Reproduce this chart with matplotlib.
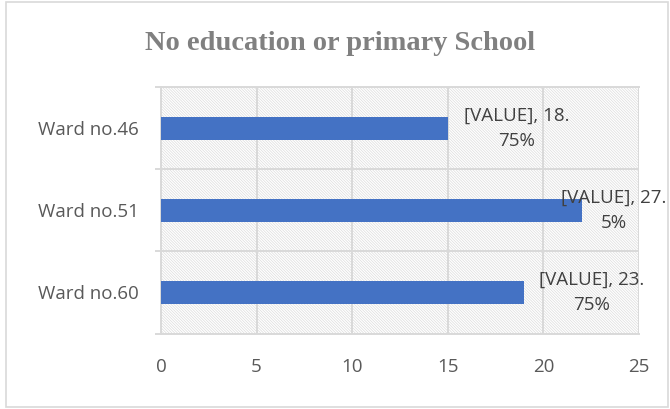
import matplotlib
matplotlib.use("Agg")
import matplotlib.pyplot as plt
from matplotlib.patches import Rectangle

categories = ["Ward no.60", "Ward no.51", "Ward no.46"]
values = [19, 22, 15]
labels = ["[VALUE], 23.\n75%", "[VALUE], 27.\n5%", "[VALUE], 18.\n75%"]
label_offsets = [67, 32, 69]  # px from bar end to label centre
xticks = [0, 5, 10, 15, 20, 25]

plt.rcParams['font.family'] = ['Open Sans', 'DejaVu Sans']
plt.rcParams['hatch.linewidth'] = 0.5

fig = plt.figure(figsize=(6.7, 4.09), dpi=100)
fig.patches.append(Rectangle((6/670, 2/409), 662/670, 405/409, transform=fig.transFigure,
                             fill=False, edgecolor='#d9d9d9', linewidth=1.2))

ax = fig.add_axes([161/670, 1-333.5/409, 478/670, 246.5/409])
ax.set_facecolor('white')
bg = Rectangle((0, 0), 1, 1, transform=ax.transAxes, facecolor='white',
               edgecolor='#dcdcdc', linewidth=0, hatch='\\' * 12, zorder=0)
ax.add_patch(bg)

y = list(range(len(categories)))
ax.barh(y, values, height=0.28, color='#4472c4', zorder=3)
ax.set_xlim(0, 25)
ax.set_ylim(-0.5, len(categories) - 0.5)
ax.set_xticks(xticks)
ax.set_xticklabels([str(t) for t in xticks], fontsize=13.5, color='#595959')
ax.set_yticks(y)
ax.set_yticklabels(categories, fontsize=13.5, color='#595959')
ax.set_yticks([i - 0.5 for i in range(len(categories) + 1)], minor=True)

ax.tick_params(axis='x', length=0, pad=18)
ax.tick_params(axis='y', which='major', length=0, pad=16)
ax.tick_params(axis='y', which='minor', length=4.5, width=1.4)
for t in ax.yaxis.get_minor_ticks():
    t.tick1line.set_color('#d9d9d9')
    t.tick1line.set_markeredgecolor('#d9d9d9')

ax.grid(axis='x', which='major', color='#d9d9d9', linewidth=1.4, zorder=1)
ax.grid(axis='y', which='minor', color='#d9d9d9', linewidth=1.4, zorder=1)
ax.spines['right'].set_visible(False)
for s in ['left', 'top', 'bottom']:
    ax.spines[s].set_color('#d9d9d9')
    ax.spines[s].set_linewidth(1.4)
ax.set_axisbelow(True)

for yi, v, lab, off in zip(y, values, labels, label_offsets):
    ax.annotate(lab, xy=(v, yi), xytext=(off * 0.72, 0), textcoords='offset points',
                ha='center', va='center', multialignment='center', fontsize=13.5,
                color='#404040', linespacing=1.5, zorder=5, annotation_clip=False)

fig.text(340/670, 1-43/409, "No education or primary School", ha='center', va='center',
         fontsize=20.5, fontweight='bold', color='#808080', family='Liberation Serif')

fig.savefig("out.png", dpi=100)
